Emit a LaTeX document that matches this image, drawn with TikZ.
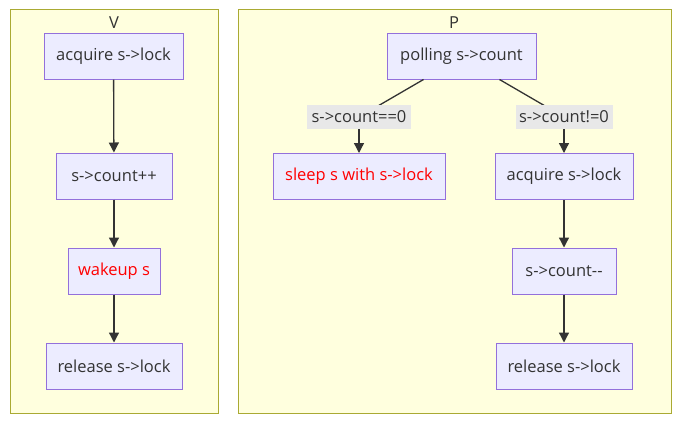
\documentclass[tikz,border=0pt]{standalone}
\usepackage{fontspec}
\setmainfont{Open Sans}
\usetikzlibrary{arrows.meta}
\definecolor{nodefill}{HTML}{ECECFF}
\definecolor{nodeline}{HTML}{9370DB}
\definecolor{grpfill}{HTML}{FFFFDE}
\definecolor{grpline}{HTML}{AAAA33}
\definecolor{edgecol}{HTML}{333333}
\definecolor{lblfill}{HTML}{E8E8E8}
\definecolor{txtcol}{HTML}{333333}
\begin{document}
\begin{tikzpicture}[x=1pt,y=-1pt,
  grp/.style={draw=grpline,fill=grpfill,line width=1pt},
  box/.style={draw=nodeline,fill=nodefill,line width=1pt,minimum height=46pt,inner xsep=0pt,text=txtcol,font=\fontsize{16.5}{19}\selectfont},
  redtxt/.style={text=red},
  lbl/.style={fill=lblfill,inner xsep=0pt,inner ysep=0pt,minimum height=24pt,text=txtcol,font=\fontsize{16.5}{19}\selectfont},
  ttl/.style={text=txtcol,font=\fontsize{16.5}{19}\selectfont},
  edge/.style={draw=edgecol,line width=1.3pt,-{Triangle[length=10pt,width=10pt]}},
  plain/.style={draw=edgecol,line width=1.3pt}]
\useasboundingbox (0,0) rectangle (683,426);
\fill[white] (0,0) rectangle (683,426);
\draw[grp] (10,9) rectangle (218,413);
\draw[grp] (238,9) rectangle (671,413);
\node[ttl] (tv) at (114,23) {V};
\node[ttl] (tp) at (454,23) {P};
% V
\node[box,minimum width=139pt] (v1) at (113.5,56) {acquire s->lock};
\node[box,minimum width=116pt] (v2) at (114,176) {s->count++};
\node[box,minimum width=92pt,redtxt] (v3) at (114,271) {wakeup s};
\node[box,minimum width=136pt] (v4) at (114,366) {release s->lock};
\draw[edge] (v1) -- (v2);
\draw[edge] (v2) -- (v3);
\draw[edge] (v3) -- (v4);
% P
\node[box,minimum width=149pt] (p1) at (461.5,56) {polling s->count};
\node[box,minimum width=172pt,redtxt] (p2) at (359,176.5) {sleep s with s->lock};
\node[box,minimum width=138pt] (p3) at (564,176.5) {acquire s->lock};
\node[box,minimum width=104pt] (p4) at (564,271) {s->count{-}{-}};
\node[box,minimum width=136pt] (p5) at (564,366) {release s->lock};
\coordinate (l1) at (359,117);
\coordinate (l2) at (564,117);
\draw[plain] ([xshift=-38pt]p1.south) -- (l1);
\draw[edge] (l1) -- (p2.north);
\draw[plain] ([xshift=38pt]p1.south) -- (l2);
\draw[edge] (l2) -- (p3.north);
\node[lbl,minimum width=104pt] (e1) at (l1) {s->count==0};
\node[lbl,minimum width=97pt] (e2) at (l2) {s->count!=0};
\draw[edge] (p3) -- (p4);
\draw[edge] (p4) -- (p5);
\end{tikzpicture}
\end{document}
